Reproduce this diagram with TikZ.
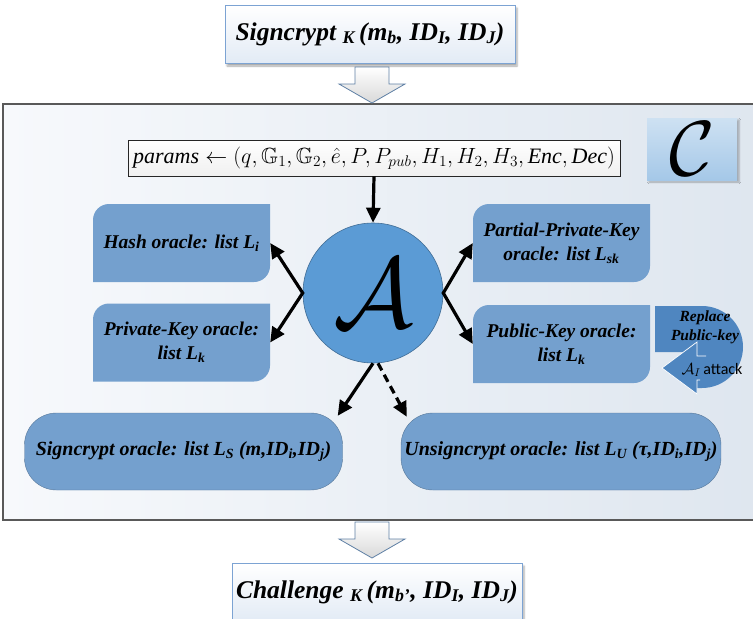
\RequirePackage{fix-cm}
\documentclass[tikz,border=0pt]{standalone}
\usepackage{amssymb}
\usepackage{fontspec}
\setmainfont{Liberation Serif}
\newfontfamily\attackfont{Carlito}
\usetikzlibrary{arrows.meta, shadows.blur}
\definecolor{oracleblue}{RGB}{116,160,206}
\definecolor{advblue}{RGB}{91,155,213}
\definecolor{turnblue}{RGB}{79,134,192}
\definecolor{edgeblue}{RGB}{124,163,211}
\definecolor{arrowedge}{RGB}{95,128,165}
\definecolor{frameleft}{RGB}{247,249,252}
\definecolor{frameright}{RGB}{222,230,239}
\tikzset{
  >={Triangle[length=15pt,width=14pt]},
  outerbox/.style={draw=edgeblue, line width=1pt, top color=white, bottom color=edgeblue!22,
    minimum width=290pt, minimum height=58pt, font=\fontsize{25.5}{30}\selectfont\bfseries\itshape,
    blur shadow={shadow xshift=2pt, shadow yshift=-3pt, shadow opacity=35}},
  oracle/.style={minimum width=177pt, minimum height=78pt, align=center,
    font=\fontsize{19.5}{24}\selectfont\bfseries\itshape,
    path picture={\fill[oracleblue] (path picture bounding box.south west)
      -- ([yshift=-16pt]path picture bounding box.north west) arc[start angle=180,end angle=90,radius=16pt]
      -- (path picture bounding box.north east)
      -- ([yshift=16pt]path picture bounding box.south east) arc[start angle=0,end angle=-90,radius=16pt]
      -- cycle;}},
  listbox/.style={draw=oracleblue!75!black, fill=oracleblue, rounded corners=32pt,
    minimum width=318pt, minimum height=77pt, font=\fontsize{20}{24}\selectfont\bfseries\itshape},
  link/.style={line width=3.2pt},
  hollow/.style={draw=arrowedge, line width=0.8pt, top color=white, bottom color=gray!30}
}
\newcommand\hollowarrow[1]{\draw[hollow] (#1) ++(-17,0) -- ++(34,0) -- ++(0,-17) -- ++(16,0)
  -- ++(-33,-19) -- ++(-33,19) -- ++(16,0) -- cycle;}

\begin{document}
\begin{tikzpicture}[x=1pt, y=1pt]
  \useasboundingbox (0,0) rectangle (753,-619);
  % adversary frame
  \shade[left color=frameleft, right color=frameright] (3,-104) rectangle (770,-520);
  \draw[black!65, line width=1.3pt] (3,-104) rectangle (770,-520);

  \node[outerbox] (top) at (370,-34) {Signcrypt \textsubscript{K}\,(m\textsubscript{b}, ID\textsubscript{I}, ID\textsubscript{J})};
  \node[outerbox] (chal) at (377,-592) {Challenge \textsubscript{K}\,(m\textsubscript{b’}, ID\textsubscript{I}, ID\textsubscript{J})};
  \coordinate (in) at (372,-67);
  \coordinate (out) at (372,-522);
  \hollowarrow{in}
  \hollowarrow{out}

  \node[minimum width=90pt, minimum height=62pt, top color=advblue!30, bottom color=advblue!55,
    blur shadow={shadow xshift=2pt, shadow yshift=-2pt, shadow opacity=30},
    font=\fontsize{78}{78}\selectfont] (chal-C) at (692,-149) {$\mathcal{C}$};
  \node[draw=black!85, line width=0.8pt, top color=white, bottom color=black!6,
    minimum width=492pt, minimum height=36pt, font=\fontsize{22}{24}\selectfont] (params) at (374,-158)
    {$\mathit{params}\leftarrow(q,\mathbb{G}_1,\mathbb{G}_2,\hat{e},P,P_{pub},H_1,H_2,H_3,\mathit{Enc},\mathit{Dec})$};

  \node[circle, minimum size=140pt, fill=advblue, draw=advblue!70!black, line width=0.6pt,
    font=\fontsize{100}{100}\selectfont] (adv) at (373,-293) {$\mathcal{A}$};

  \node[oracle] (hash) at (181.5,-243) {Hash oracle: list L\textsubscript{i}};
  \node[oracle] (priv) at (181.5,-342.5) {Private-Key oracle:\\ list L\textsubscript{k}};
  \node[oracle] (ppk) at (561.5,-243) {Partial-Private-Key\\ oracle: list L\textsubscript{sk}};
  \node[oracle] (pk) at (561.5,-344) {Public-Key oracle:\\ list L\textsubscript{k}};
  \node[listbox] (sc) at (183.5,-451.5) {Signcrypt oracle: list L\textsubscript{S} (m,ID\textsubscript{i},ID\textsubscript{j})};
  \node[listbox] (usc) at (561,-451.5) {Unsigncrypt oracle: list L\textsubscript{U} (τ,ID\textsubscript{i},ID\textsubscript{j})};

  % replace public-key turn arrow
  \fill[turnblue] (655,-306) -- (702,-306) arc[start angle=90,end angle=-90,radius=41]
    -- (694,-388) -- (694,-352) -- (655,-352) -- cycle;
  \filldraw[fill=turnblue, draw=white, line width=0.7pt] (700,-380) -- (697,-380) -- (697,-394)
    -- (662,-368) -- (697,-342) -- (697,-356) -- (706,-356);
  \node[font=\fontsize{15.5}{19}\selectfont\bfseries\itshape, align=center] (repl) at (705,-327) {Replace\\ Public-key};
  \node[font=\fontsize{16}{18}\selectfont] (atk) at (712,-370) {$\mathcal{A}_I$\,{\attackfont attack}};

  \draw[link, ->] (params.south) -- (adv.north);
  \draw[link, <->, line join=miter] (hash.east) -- (adv.west) -- (priv.east);
  \draw[link, <->, line join=miter] (ppk.west) -- (adv.east) -- (pk.west);
  \draw[link, ->] (adv.south) -- ([xshift=-5pt,yshift=-3pt]sc.north east);
  \draw[link, ->, dash pattern=on 8pt off 5pt] ([xshift=5pt]adv.south) -- ([xshift=6pt,yshift=-4pt]usc.north west);
\end{tikzpicture}
\end{document}
